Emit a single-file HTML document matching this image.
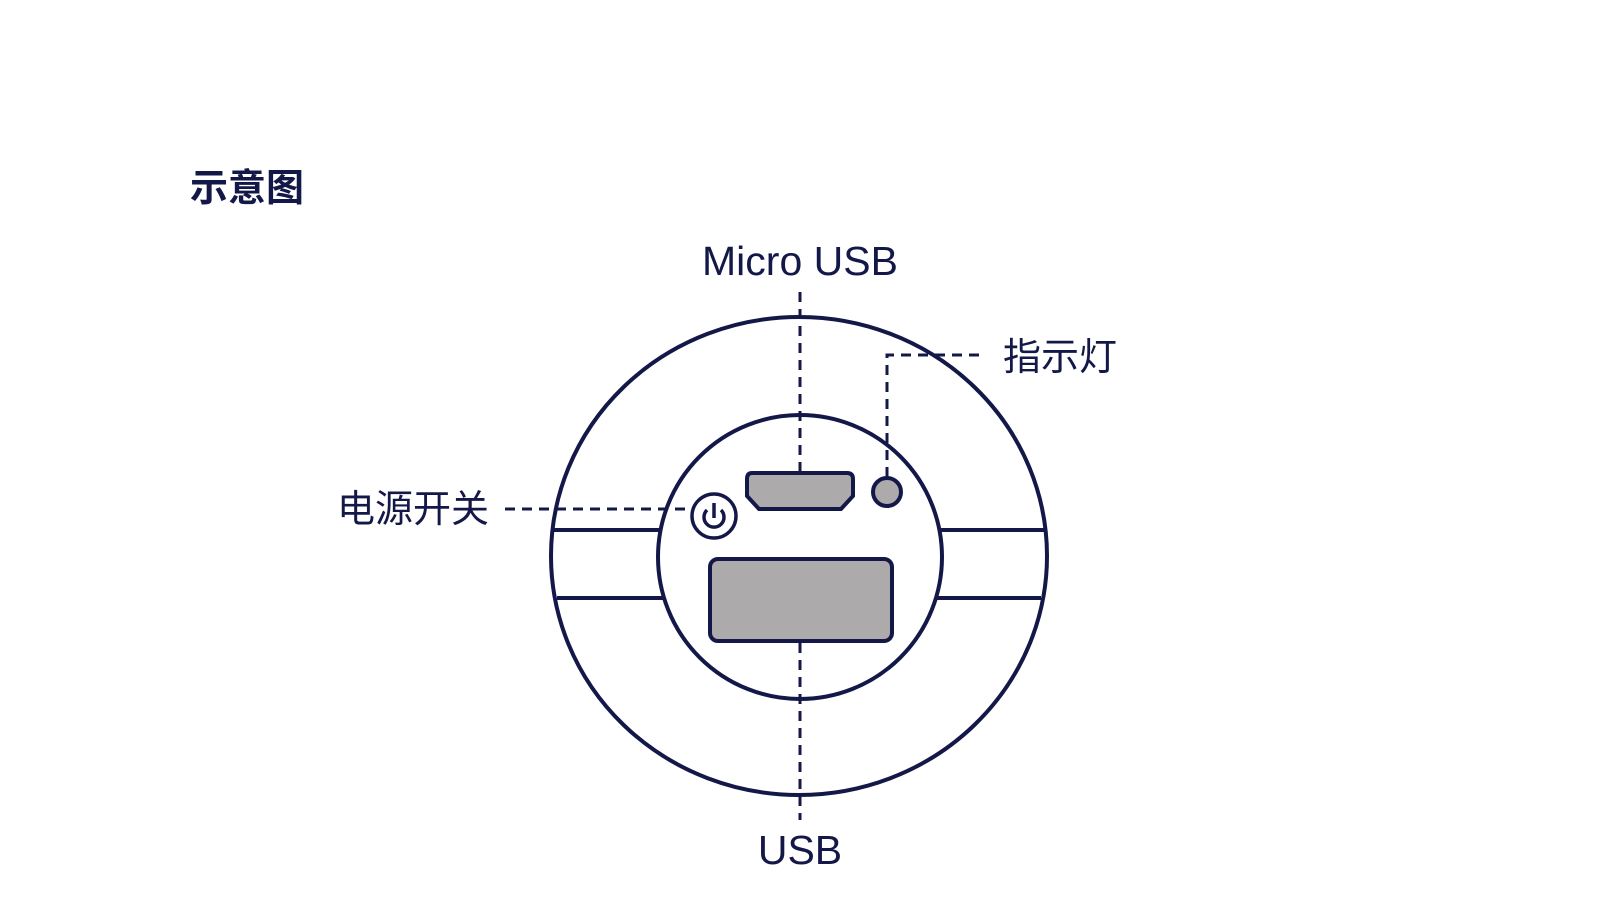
<!DOCTYPE html>
<html><head><meta charset="utf-8"><style>
html,body{margin:0;padding:0;background:#fff;}
svg{display:block;}
text{font-family:"Liberation Sans","Noto Sans CJK SC",sans-serif;fill:#141848;}
</style></head><body>
<svg width="1600" height="921" viewBox="0 0 1600 921" xmlns="http://www.w3.org/2000/svg">
<g stroke="#141848" stroke-width="4" fill="none">
  <ellipse cx="799" cy="556" rx="248" ry="239"/>
  <line x1="553" y1="530" x2="663" y2="530"/>
  <line x1="557" y1="598" x2="669" y2="598"/>
  <line x1="935" y1="530" x2="1045" y2="530"/>
  <line x1="929" y1="598" x2="1041" y2="598"/>
  <ellipse cx="800" cy="557" rx="142" ry="142" fill="#fff"/>
  <path d="M752 473 H847 Q853 473 853 479 V496 L841 509 H759 L747 496 V479 Q747 473 752 473 Z" fill="#acaaab"/>
  <circle cx="887" cy="492" r="14" fill="#acaaab"/>
  <rect x="710" y="559" width="182" height="82" rx="8" fill="#acaaab"/>
  <circle cx="714" cy="516" r="22" stroke-width="3.5"/>
  <path d="M707 510 A10 10 0 1 0 721 510" stroke-width="3.5"/>
  <line x1="714" y1="503" x2="714" y2="518" stroke-width="3.5"/>
</g>
<g stroke="#141848" stroke-width="3" fill="none" stroke-dasharray="10 7">
  <line x1="800" y1="292" x2="800" y2="472"/>
  <line x1="800" y1="643" x2="800" y2="820"/>
  <path d="M887 477 V355 H982"/>
  <line x1="505" y1="509" x2="692" y2="509"/>
</g>
<text x="190" y="201" font-size="38" font-weight="bold">示意图</text>
<text x="800" y="275" font-size="41" text-anchor="middle">Micro USB</text>
<text x="1003" y="370" font-size="38">指示灯</text>
<text x="337" y="522" font-size="38">电源开关</text>
<text x="800" y="864" font-size="41" text-anchor="middle">USB</text>
</svg>
</body></html>
